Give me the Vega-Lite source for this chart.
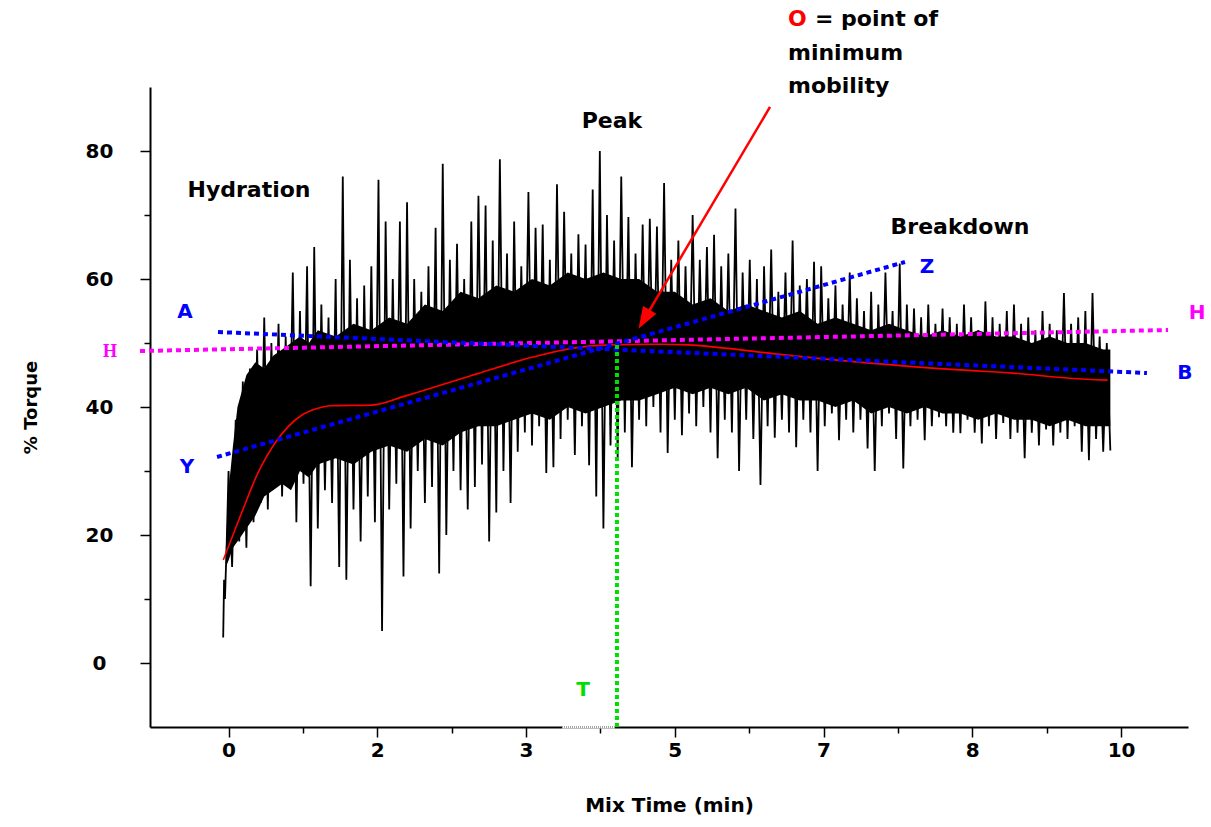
{
  "$schema": "https://vega.github.io/schema/vega-lite/v6.json",
  "width": 1038,
  "height": 640,
  "autosize": {"type": "none"},
  "padding": {"left": 150, "top": 87, "right": 23, "bottom": 100},
  "background": "white",
  "config": {
    "view": {"stroke": null},
    "axis": {
      "grid": false,
      "domainColor": "black",
      "domainWidth": 2,
      "tickColor": "black",
      "tickWidth": 1.5,
      "labelColor": "black",
      "labelFont": "DejaVu Sans",
      "labelFontWeight": "bold",
      "labelFontSize": 20,
      "titleFont": "DejaVu Sans",
      "titleFontWeight": "bold",
      "titleColor": "black",
      "zindex": 0
    }
  },
  "datasets": {
    "core": [
      {"t": -0.03, "v": 15, "v2": 18}, {"t": 0.0, "v": 16, "v2": 27}, {"t": 0.05, "v": 18, "v2": 34},
      {"t": 0.1, "v": 19, "v2": 40}, {"t": 0.2, "v": 21, "v2": 45}, {"t": 0.3, "v": 23, "v2": 47},
      {"t": 0.4, "v": 26, "v2": 46}, {"t": 0.5, "v": 27, "v2": 48}, {"t": 0.6, "v": 28, "v2": 49},
      {"t": 0.7, "v": 27, "v2": 50}, {"t": 0.8, "v": 30, "v2": 51}, {"t": 0.9, "v": 29, "v2": 50},
      {"t": 1.0, "v": 31, "v2": 52}, {"t": 1.2, "v": 32, "v2": 51}, {"t": 1.4, "v": 31, "v2": 53},
      {"t": 1.6, "v": 33, "v2": 52}, {"t": 1.8, "v": 34, "v2": 54}, {"t": 2.0, "v": 33, "v2": 53},
      {"t": 2.2, "v": 35, "v2": 56}, {"t": 2.4, "v": 34, "v2": 55}, {"t": 2.6, "v": 36, "v2": 58},
      {"t": 2.8, "v": 37, "v2": 57}, {"t": 3.0, "v": 37, "v2": 59}, {"t": 3.2, "v": 38, "v2": 58},
      {"t": 3.4, "v": 39, "v2": 60}, {"t": 3.6, "v": 38, "v2": 59}, {"t": 3.8, "v": 40, "v2": 61},
      {"t": 4.0, "v": 39, "v2": 60}, {"t": 4.2, "v": 40, "v2": 61}, {"t": 4.4, "v": 41, "v2": 60},
      {"t": 4.6, "v": 41, "v2": 60}, {"t": 4.8, "v": 42, "v2": 58}, {"t": 5.0, "v": 43, "v2": 58},
      {"t": 5.2, "v": 42, "v2": 56}, {"t": 5.4, "v": 43, "v2": 57}, {"t": 5.6, "v": 42, "v2": 55},
      {"t": 5.8, "v": 43, "v2": 56}, {"t": 6.0, "v": 41, "v2": 55}, {"t": 6.2, "v": 42, "v2": 54},
      {"t": 6.4, "v": 41, "v2": 55}, {"t": 6.6, "v": 41, "v2": 53}, {"t": 6.8, "v": 40, "v2": 54},
      {"t": 7.0, "v": 41, "v2": 53}, {"t": 7.2, "v": 39, "v2": 52}, {"t": 7.4, "v": 40, "v2": 53},
      {"t": 7.6, "v": 39, "v2": 52}, {"t": 7.8, "v": 40, "v2": 51}, {"t": 8.0, "v": 39, "v2": 52},
      {"t": 8.2, "v": 39, "v2": 51}, {"t": 8.4, "v": 38, "v2": 52}, {"t": 8.6, "v": 39, "v2": 51},
      {"t": 8.8, "v": 38, "v2": 51}, {"t": 9.0, "v": 38, "v2": 50}, {"t": 9.2, "v": 37, "v2": 51},
      {"t": 9.4, "v": 38, "v2": 50}, {"t": 9.6, "v": 37, "v2": 50}, {"t": 9.8, "v": 37, "v2": 49},
      {"t": 9.88, "v": 37, "v2": 49}
    ],
    "sig": [
      {"t": -0.06, "v": 4}, {"t": -0.05, "v": 13}, {"t": -0.04, "v": 10}, {"t": -0.02, "v": 19},
      {"t": 0.00, "v": 30}, {"t": 0.04, "v": 15}, {"t": 0.08, "v": 38}, {"t": 0.12, "v": 19},
      {"t": 0.16, "v": 44}, {"t": 0.20, "v": 18}, {"t": 0.24, "v": 46}, {"t": 0.28, "v": 22},
      {"t": 0.32, "v": 49}, {"t": 0.36, "v": 25}, {"t": 0.40, "v": 54}, {"t": 0.44, "v": 24},
      {"t": 0.48, "v": 50}, {"t": 0.52, "v": 28}, {"t": 0.56, "v": 53}, {"t": 0.60, "v": 26},
      {"t": 0.64, "v": 51}, {"t": 0.68, "v": 29}, {"t": 0.72, "v": 61}, {"t": 0.76, "v": 22},
      {"t": 0.80, "v": 55}, {"t": 0.84, "v": 28}, {"t": 0.88, "v": 62}, {"t": 0.92, "v": 12},
      {"t": 0.96, "v": 65}, {"t": 1.00, "v": 21}, {"t": 1.04, "v": 56}, {"t": 1.08, "v": 27},
      {"t": 1.12, "v": 54}, {"t": 1.16, "v": 25}, {"t": 1.20, "v": 60}, {"t": 1.24, "v": 15},
      {"t": 1.28, "v": 76}, {"t": 1.32, "v": 13}, {"t": 1.36, "v": 63}, {"t": 1.40, "v": 24},
      {"t": 1.44, "v": 57}, {"t": 1.48, "v": 19}, {"t": 1.52, "v": 59}, {"t": 1.56, "v": 26},
      {"t": 1.60, "v": 62}, {"t": 1.64, "v": 22}, {"t": 1.68, "v": 75.5}, {"t": 1.72, "v": 5},
      {"t": 1.76, "v": 69}, {"t": 1.80, "v": 24}, {"t": 1.84, "v": 60}, {"t": 1.88, "v": 28},
      {"t": 1.92, "v": 69}, {"t": 1.96, "v": 13.5}, {"t": 2.00, "v": 72}, {"t": 2.04, "v": 21},
      {"t": 2.08, "v": 60}, {"t": 2.12, "v": 30}, {"t": 2.16, "v": 58}, {"t": 2.20, "v": 25},
      {"t": 2.24, "v": 62}, {"t": 2.28, "v": 27.5}, {"t": 2.32, "v": 68}, {"t": 2.36, "v": 14},
      {"t": 2.40, "v": 78}, {"t": 2.44, "v": 20}, {"t": 2.48, "v": 63}, {"t": 2.52, "v": 30},
      {"t": 2.56, "v": 65.5}, {"t": 2.60, "v": 27}, {"t": 2.64, "v": 60}, {"t": 2.68, "v": 24},
      {"t": 2.72, "v": 69}, {"t": 2.76, "v": 27.5}, {"t": 2.80, "v": 73}, {"t": 2.84, "v": 31},
      {"t": 2.88, "v": 71.5}, {"t": 2.92, "v": 19}, {"t": 2.96, "v": 66}, {"t": 3.00, "v": 23.5},
      {"t": 3.04, "v": 78.7}, {"t": 3.08, "v": 30}, {"t": 3.12, "v": 64}, {"t": 3.16, "v": 25},
      {"t": 3.20, "v": 69}, {"t": 3.24, "v": 33}, {"t": 3.28, "v": 62}, {"t": 3.32, "v": 36},
      {"t": 3.36, "v": 73.6}, {"t": 3.40, "v": 34}, {"t": 3.44, "v": 68}, {"t": 3.48, "v": 37},
      {"t": 3.52, "v": 68.5}, {"t": 3.56, "v": 29.7}, {"t": 3.60, "v": 63}, {"t": 3.64, "v": 30.6},
      {"t": 3.68, "v": 74.8}, {"t": 3.72, "v": 35}, {"t": 3.76, "v": 70.5}, {"t": 3.80, "v": 38},
      {"t": 3.84, "v": 64}, {"t": 3.88, "v": 32.5}, {"t": 3.92, "v": 67}, {"t": 3.96, "v": 37},
      {"t": 4.00, "v": 65.4}, {"t": 4.04, "v": 30.9}, {"t": 4.08, "v": 74}, {"t": 4.12, "v": 26},
      {"t": 4.16, "v": 80}, {"t": 4.20, "v": 21}, {"t": 4.24, "v": 70}, {"t": 4.28, "v": 34},
      {"t": 4.32, "v": 66}, {"t": 4.36, "v": 32}, {"t": 4.40, "v": 76}, {"t": 4.44, "v": 36},
      {"t": 4.48, "v": 69.7}, {"t": 4.52, "v": 30.6}, {"t": 4.56, "v": 64}, {"t": 4.60, "v": 38},
      {"t": 4.64, "v": 68.5}, {"t": 4.68, "v": 37}, {"t": 4.72, "v": 69.4}, {"t": 4.76, "v": 40},
      {"t": 4.80, "v": 68.2}, {"t": 4.84, "v": 36}, {"t": 4.88, "v": 75}, {"t": 4.92, "v": 32.8},
      {"t": 4.96, "v": 63}, {"t": 5.00, "v": 38}, {"t": 5.04, "v": 66}, {"t": 5.08, "v": 35.6},
      {"t": 5.12, "v": 62}, {"t": 5.16, "v": 39}, {"t": 5.20, "v": 70}, {"t": 5.24, "v": 37},
      {"t": 5.28, "v": 63}, {"t": 5.32, "v": 40}, {"t": 5.36, "v": 65}, {"t": 5.40, "v": 36},
      {"t": 5.44, "v": 66.9}, {"t": 5.48, "v": 32}, {"t": 5.52, "v": 62}, {"t": 5.56, "v": 38},
      {"t": 5.60, "v": 64}, {"t": 5.64, "v": 36}, {"t": 5.68, "v": 71}, {"t": 5.72, "v": 30},
      {"t": 5.76, "v": 61}, {"t": 5.80, "v": 38}, {"t": 5.84, "v": 63}, {"t": 5.88, "v": 35},
      {"t": 5.92, "v": 60}, {"t": 5.96, "v": 27.8}, {"t": 6.00, "v": 62}, {"t": 6.04, "v": 37},
      {"t": 6.08, "v": 64.6}, {"t": 6.12, "v": 35.2}, {"t": 6.16, "v": 58}, {"t": 6.20, "v": 38},
      {"t": 6.24, "v": 61}, {"t": 6.28, "v": 36}, {"t": 6.32, "v": 66}, {"t": 6.36, "v": 33.7},
      {"t": 6.40, "v": 59}, {"t": 6.44, "v": 38}, {"t": 6.48, "v": 60}, {"t": 6.52, "v": 36},
      {"t": 6.56, "v": 62.7}, {"t": 6.60, "v": 30}, {"t": 6.64, "v": 62}, {"t": 6.68, "v": 37},
      {"t": 6.72, "v": 57}, {"t": 6.76, "v": 39}, {"t": 6.80, "v": 59}, {"t": 6.84, "v": 34.8},
      {"t": 6.88, "v": 56}, {"t": 6.92, "v": 38}, {"t": 6.96, "v": 61}, {"t": 7.00, "v": 36},
      {"t": 7.04, "v": 57}, {"t": 7.08, "v": 38}, {"t": 7.12, "v": 55}, {"t": 7.16, "v": 33.5},
      {"t": 7.20, "v": 58}, {"t": 7.24, "v": 30}, {"t": 7.28, "v": 56}, {"t": 7.32, "v": 37},
      {"t": 7.36, "v": 61}, {"t": 7.40, "v": 39}, {"t": 7.44, "v": 55}, {"t": 7.48, "v": 35},
      {"t": 7.52, "v": 62.4}, {"t": 7.56, "v": 30.4}, {"t": 7.60, "v": 56}, {"t": 7.64, "v": 37},
      {"t": 7.68, "v": 55.4}, {"t": 7.72, "v": 38}, {"t": 7.76, "v": 54}, {"t": 7.80, "v": 34.8},
      {"t": 7.84, "v": 56}, {"t": 7.88, "v": 37}, {"t": 7.92, "v": 53}, {"t": 7.96, "v": 38.4},
      {"t": 8.00, "v": 55.4}, {"t": 8.04, "v": 37}, {"t": 8.08, "v": 54}, {"t": 8.12, "v": 36},
      {"t": 8.16, "v": 53}, {"t": 8.20, "v": 35.9}, {"t": 8.24, "v": 56}, {"t": 8.28, "v": 38},
      {"t": 8.32, "v": 54}, {"t": 8.36, "v": 36}, {"t": 8.40, "v": 52}, {"t": 8.44, "v": 34.3},
      {"t": 8.48, "v": 56.5}, {"t": 8.52, "v": 37}, {"t": 8.56, "v": 54}, {"t": 8.60, "v": 35},
      {"t": 8.64, "v": 53}, {"t": 8.68, "v": 37.5}, {"t": 8.72, "v": 55}, {"t": 8.76, "v": 35},
      {"t": 8.80, "v": 56}, {"t": 8.84, "v": 36}, {"t": 8.88, "v": 53}, {"t": 8.92, "v": 32},
      {"t": 8.96, "v": 54}, {"t": 9.00, "v": 36}, {"t": 9.04, "v": 52}, {"t": 9.08, "v": 34},
      {"t": 9.12, "v": 55}, {"t": 9.16, "v": 36.5}, {"t": 9.20, "v": 53}, {"t": 9.24, "v": 34},
      {"t": 9.28, "v": 52}, {"t": 9.32, "v": 36}, {"t": 9.36, "v": 57.8}, {"t": 9.40, "v": 35},
      {"t": 9.44, "v": 53}, {"t": 9.48, "v": 37}, {"t": 9.52, "v": 54}, {"t": 9.56, "v": 33},
      {"t": 9.60, "v": 55}, {"t": 9.64, "v": 31.7}, {"t": 9.68, "v": 57.8}, {"t": 9.72, "v": 35},
      {"t": 9.76, "v": 51}, {"t": 9.80, "v": 33}, {"t": 9.84, "v": 50}, {"t": 9.88, "v": 33.2}
    ],
    "fit": [
      {"t": -0.059, "v": 16.1}, {"t": 0.128, "v": 22.8}, {"t": 0.33, "v": 29.7}, {"t": 0.543, "v": 34.8},
      {"t": 0.666, "v": 36.9}, {"t": 0.823, "v": 38.75}, {"t": 1.002, "v": 39.8}, {"t": 1.137, "v": 40.2},
      {"t": 1.607, "v": 40.3}, {"t": 1.977, "v": 41.7}, {"t": 2.672, "v": 44.7}, {"t": 3.411, "v": 47.8},
      {"t": 3.859, "v": 49.2}, {"t": 4.274, "v": 49.7}, {"t": 4.812, "v": 49.8}, {"t": 5.148, "v": 49.7},
      {"t": 5.562, "v": 49.2}, {"t": 6.123, "v": 48.3}, {"t": 7.153, "v": 46.9}, {"t": 8.195, "v": 45.8},
      {"t": 8.789, "v": 45.3}, {"t": 9.428, "v": 44.5}, {"t": 9.85, "v": 44.2}
    ],
    "blueGuides": [
      {"g": "AB", "t": -0.118, "v": 51.72}, {"g": "AB", "t": 10.29, "v": 45.31},
      {"g": "YZ", "t": -0.129, "v": 32.19}, {"g": "YZ", "t": 7.579, "v": 62.66}
    ],
    "magentaGuide": [
      {"g": "HH", "t": -0.992, "v": 48.75}, {"g": "HH", "t": 10.526, "v": 52.03}
    ],
    "greenGuide": [
      {"t": 4.352, "v": 49.69}, {"t": 4.352, "v": -10}
    ],
    "grayGuide": [
      {"t": 3.736, "v": -10}, {"t": 4.33, "v": -10}
    ],
    "arrowLine": [
      {"t": 6.067, "v": 86.88}, {"t": 4.656, "v": 53.69}
    ],
    "arrowHead": [
      {"t": 4.656, "v": 53.69}
    ],
    "notesCenter": [
      {"label": "Hydration", "t": 0.229, "v": 73.91},
      {"label": "Peak", "t": 4.296, "v": 84.69},
      {"label": "Breakdown", "t": 8.195, "v": 68.13}
    ],
    "notesLeft": [
      {"label": "= point of", "t": 6.571, "v": 100.63},
      {"label": "minimum", "t": 6.268, "v": 95.31},
      {"label": "mobility", "t": 6.268, "v": 90.16}
    ],
    "redO": [
      {"label": "O", "t": 6.268, "v": 100.63}
    ],
    "blueLetters": [
      {"label": "A", "t": -0.488, "v": 54.84},
      {"label": "Y", "t": -0.465, "v": 30.63},
      {"label": "Z", "t": 7.826, "v": 61.88},
      {"label": "B", "t": 10.716, "v": 45.31}
    ],
    "magentaRight": [
      {"label": "H", "t": 10.851, "v": 54.69}
    ],
    "magentaLeft": [
      {"label": "H", "t": -1.328, "v": 48.59}
    ],
    "greenLetter": [
      {"label": "T", "t": 3.971, "v": -4.22}
    ]
  },
  "encoding": {
    "x": {
      "field": "t",
      "type": "quantitative",
      "scale": {"domain": [-0.88, 10.75], "nice": false, "zero": false},
      "axis": {
        "title": "Mix Time (min)",
        "titleFontSize": 20,
        "titleX": 519,
        "titleY": 78,
        "titleBaseline": "middle",
        "titleAlign": "center",
        "values": [0, 0.83333, 1.66667, 2.5, 3.33333, 4.16667, 5, 5.83333, 6.66667, 7.5, 8.33333, 9.16667, 10],
        "labelExpr": "abs(datum.value*0.6 - round(datum.value*0.6)) < 0.01 ? format(datum.value, '.0f') : ''",
        "tickSize": {"condition": {"test": "abs(datum.value*0.6 - round(datum.value*0.6)) < 0.01", "value": 10}, "value": 6},
        "labelPadding": 3,
        "labelFlush": false,
        "labelOverlap": false
      }
    },
    "y": {
      "field": "v",
      "type": "quantitative",
      "scale": {"domain": [-10, 90], "nice": false, "zero": false},
      "axis": {
        "title": "% Torque",
        "titleFontSize": 18,
        "titleX": -119,
        "titleY": 320,
        "titleAngle": 270,
        "titleBaseline": "middle",
        "titleAlign": "center",
        "values": [0, 10, 20, 30, 40, 50, 60, 70, 80],
        "labelExpr": "datum.value % 20 == 0 ? datum.label : ''",
        "tickSize": {"condition": {"test": "datum.value % 20 == 0", "value": 10}, "value": 6},
        "labelAlign": "center",
        "labelBaseline": "middle",
        "labelPadding": 41,
        "labelFlush": false,
        "labelOverlap": false
      }
    }
  },
  "layer": [
    {
      "data": {"name": "core"},
      "mark": {"type": "area", "color": "black"},
      "encoding": {"y2": {"field": "v2"}}
    },
    {
      "data": {"name": "sig"},
      "mark": {"type": "line", "color": "black", "strokeWidth": 1.8},
      "encoding": {}
    },
    {
      "data": {"name": "fit"},
      "mark": {"type": "line", "color": "#ff0000", "strokeWidth": 1.6, "interpolate": "monotone"},
      "encoding": {}
    },
    {
      "data": {"name": "grayGuide"},
      "mark": {"type": "line", "color": "white", "strokeWidth": 3},
      "encoding": {}
    },
    {
      "data": {"name": "grayGuide"},
      "mark": {"type": "line", "color": "#888888", "strokeWidth": 1.5, "strokeDash": [1, 1]},
      "encoding": {}
    },
    {
      "data": {"name": "magentaGuide"},
      "mark": {"type": "line", "color": "#ff00ff", "strokeWidth": 4, "strokeDash": [5, 4]},
      "encoding": {"detail": {"field": "g"}}
    },
    {
      "data": {"name": "blueGuides"},
      "mark": {"type": "line", "color": "#0000ff", "strokeWidth": 4, "strokeDash": [5, 4]},
      "encoding": {"detail": {"field": "g"}}
    },
    {
      "data": {"name": "greenGuide"},
      "mark": {"type": "line", "color": "#00e000", "strokeWidth": 4, "strokeDash": [4, 3]},
      "encoding": {}
    },
    {
      "data": {"name": "arrowLine"},
      "mark": {"type": "line", "color": "#ff0000", "strokeWidth": 2.5},
      "encoding": {}
    },
    {
      "data": {"name": "arrowHead"},
      "mark": {"type": "point", "shape": "M0,-1L0.7,1L-0.7,1Z", "size": 484, "angle": 210.6, "filled": true, "color": "#ff0000", "opacity": 1},
      "encoding": {}
    },
    {
      "data": {"name": "notesCenter"},
      "mark": {"type": "text", "font": "DejaVu Sans", "fontWeight": "bold", "fontSize": 22, "color": "black", "align": "center", "baseline": "middle"},
      "encoding": {"text": {"field": "label"}}
    },
    {
      "data": {"name": "notesLeft"},
      "mark": {"type": "text", "font": "DejaVu Sans", "fontWeight": "bold", "fontSize": 22, "color": "black", "align": "left", "baseline": "middle"},
      "encoding": {"text": {"field": "label"}}
    },
    {
      "data": {"name": "redO"},
      "mark": {"type": "text", "font": "DejaVu Sans", "fontWeight": "bold", "fontSize": 22, "color": "#ff0000", "align": "left", "baseline": "middle"},
      "encoding": {"text": {"field": "label"}}
    },
    {
      "data": {"name": "blueLetters"},
      "mark": {"type": "text", "font": "DejaVu Sans", "fontWeight": "bold", "fontSize": 20, "color": "#0000ff", "align": "center", "baseline": "middle"},
      "encoding": {"text": {"field": "label"}}
    },
    {
      "data": {"name": "magentaRight"},
      "mark": {"type": "text", "font": "DejaVu Sans", "fontWeight": "bold", "fontSize": 20, "color": "#ff00ff", "align": "center", "baseline": "middle"},
      "encoding": {"text": {"field": "label"}}
    },
    {
      "data": {"name": "magentaLeft"},
      "mark": {"type": "text", "font": "Liberation Serif", "fontWeight": "bold", "fontSize": 18, "color": "#ff00ff", "align": "center", "baseline": "middle"},
      "encoding": {"text": {"field": "label"}}
    },
    {
      "data": {"name": "greenLetter"},
      "mark": {"type": "text", "font": "DejaVu Sans", "fontWeight": "bold", "fontSize": 20, "color": "#00e000", "align": "center", "baseline": "middle"},
      "encoding": {"text": {"field": "label"}}
    }
  ]
}
